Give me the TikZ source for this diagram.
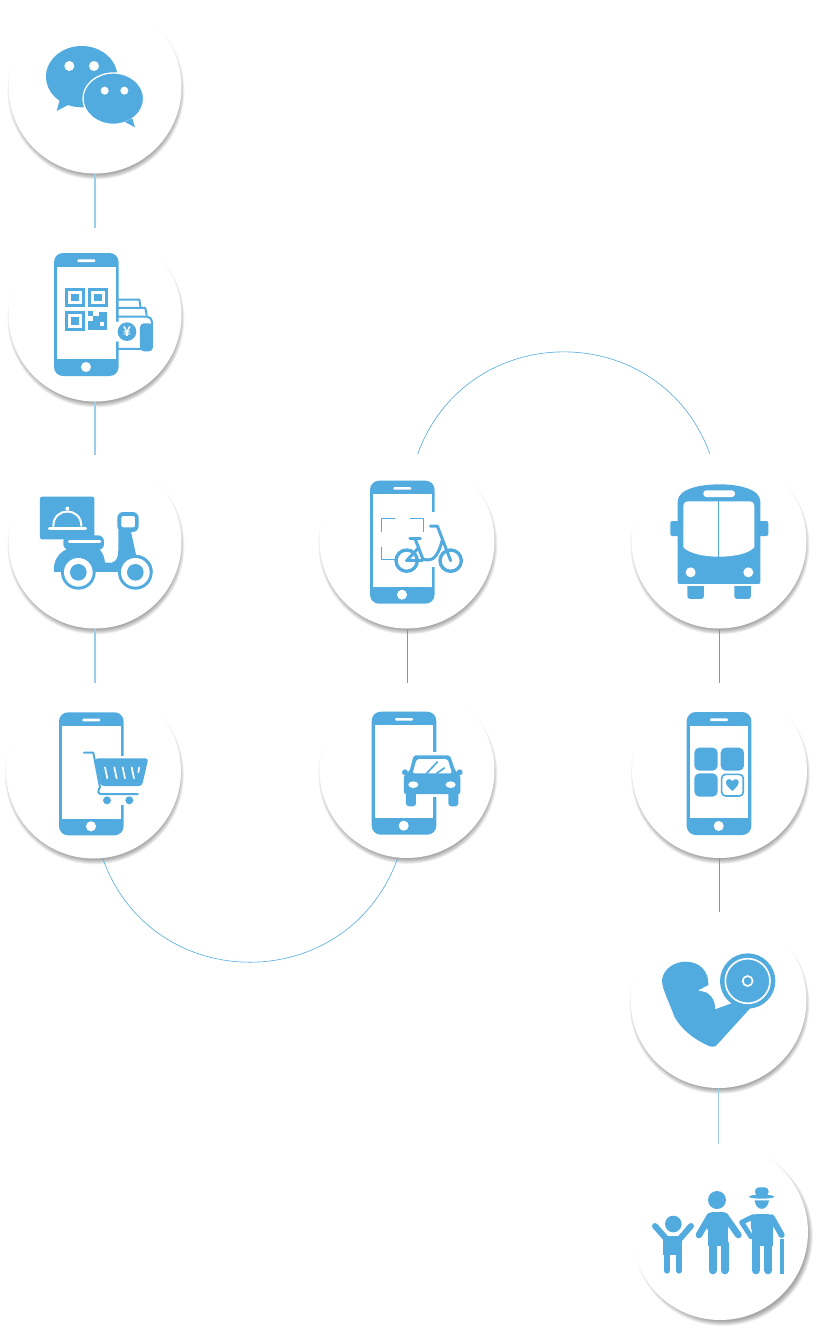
\documentclass[tikz,border=0pt]{standalone}
\usepackage{fontspec}
\setmainfont{Liberation Sans}
\definecolor{iconblue}{HTML}{52ABDF}
\definecolor{stublight}{HTML}{9CCDEA}
\definecolor{stubdark}{HTML}{6F9DB8}
\tikzset{
  stopnode/.style={circle,fill=white,inner sep=0pt},
  stub/.style={draw=stublight,line width=1.5pt},
  stubgrey/.style={draw=stubdark,line width=.7pt},
  bow/.style={draw=iconblue,line width=.6pt},
  zoomview/.style 2 args={shift={(#1,#2)},scale=.3333},
  iconfill/.style={fill=iconblue},
  gap/.style={fill=white},
  iconline/.style={draw=iconblue,line width=#1*.3333pt,line cap=round,line join=round},
  gapline/.style={draw=white,line width=#1*.3333pt,line cap=round,line join=round},
  phoneicon/.pic={
    \fill[iconfill,rounded corners=9pt] (0,0) rectangle (64.6,123);
    \fill[gap] (3.3,13.7) rectangle (61.5,106.3);
    \fill[gap,rounded corners=1pt] (23.3,6.4) rectangle (41.3,9);
    \fill[gap] (32,114) circle (5);
  }
}
\newcommand{\stopcircle}[5][1]{%
  \foreach \d in {0,...,7}{\fill[black,opacity=.05] (#3+#1,#4+4) circle [radius=#5-3+\d*.7];}
  \node[stopnode,minimum size=2*#5] (#2) at (#3,#4) {};
}
\begin{document}
\begin{tikzpicture}[x=1pt,y=-1pt]
  \useasboundingbox (0,0) rectangle (818,1331);

  \stopcircle{chat}{95}{87}{86.5}
  \stopcircle{qrpay}{95}{315}{86.5}
  \stopcircle{scooter}{95}{542}{86.5}
  \stopcircle{shop}{93.5}{771}{87.5}
  \stopcircle{bikescan}{407}{541}{87.5}
  \stopcircle{carhail}{407}{770.5}{87.5}
  \stopcircle{bus}{719}{541}{87.5}
  \stopcircle{apps}{719.5}{770.5}{87.5}
  \stopcircle{muscle}{718.5}{1000}{88}
  \stopcircle[3]{family}{720}{1232}{88}

  \draw[stub] (chat.south) -- (qrpay.north);
  \draw[stub] (qrpay.south) -- (scooter.north);
  \draw[stub] (scooter.south) -- (scooter.south |- shop.north);
  \draw[stubgrey] (bikescan.south) -- (carhail.north);
  \draw[stubgrey] (bus.south) -- (bus.south |- apps.north);
  \draw[stubgrey] (apps.south) -- (apps.south |- muscle.north);
  \draw[stub] (muscle.south) -- (muscle.south |- family.north);
  \draw[bow] (shop.-84) .. controls +(49.6,139) and +(-49.6,139) .. (carhail.-96);
  \draw[bow] (bikescan.83) .. controls +(49.8,-136) and +(-49.8,-136) .. (bus.96);

  \begin{scope}[zoomview={0}{0}]
    \fill[iconfill] (245,230) ellipse (107 and 92);
    \fill[iconfill] (180,298) -- (170,333) -- (208,313) -- cycle;
    \fill[gap] (208,198) circle (15);
    \fill[gap] (282,198) circle (15);
    \fill[iconfill,draw=white,line width=1.3pt] (340,296) ellipse (91 and 77);
    \fill[iconfill] (375,366) -- (405,382) -- (397,355) -- cycle;
    \fill[gap] (314,272) circle (12);
    \fill[gap] (373,272) circle (12);
  \end{scope}

  \pic at (54,253) {phoneicon};
  \begin{scope}[zoomview={0}{225}]
    \foreach \qx/\qy in {195/188,265/188,195/258}{
      \fill[iconfill] (\qx,\qy) rectangle (\qx+59,\qy+59);
      \fill[gap] (\qx+9,\qy+9) rectangle (\qx+50,\qy+50);
      \fill[iconfill] (\qx+18,\qy+18) rectangle (\qx+41,\qy+41);
    }
    \fill[iconfill] (265,258) rectangle (280,272);
    \fill[iconfill] (280,272) rectangle (296,290);
    \fill[iconfill] (296,260) rectangle (322,316);
    \fill[iconfill] (265,288) rectangle (296,316);
    \fill[gap] (300,292) rectangle (312,303);
    \draw[iconline=6] (355,224) -- (418,224) -- (422,248);
    \draw[iconline=6] (355,249) -- (436,249) -- (440,270);
    \draw[iconline=6,rounded corners=5pt] (352,275) -- (456,275) -- (456,372) -- (352,372);
    \fill[iconfill,rounded corners=4pt] (420,295) rectangle (459,379);
    \fill[gap] (352,320) circle (30);
    \fill[iconfill] (381,320) circle (28);
    \node[text=white,font=\bfseries\fontsize{14}{14}\selectfont,inner sep=0pt] (yen) at (381,319) {¥};
  \end{scope}

  \begin{scope}[zoomview={0}{450}]
    \fill[iconfill,rounded corners=2pt] (120,140) rectangle (283,268);
    \draw[gapline=6] (160,228) .. controls (160,170) and (244,170) .. (244,228);
    \draw[gapline=9] (148,234) -- (257,234);
    \fill[gap] (202,176) circle (6);
    \fill[iconfill,rounded corners=6pt] (190,256) rectangle (312,300);
    \draw[gapline=8] (208,274) -- (300,274);
    \fill[iconfill] (162,366) -- (162,350) .. controls (165,325) and (180,305) .. (205,296)
      -- (295,296) .. controls (308,305) and (313,320) .. (315,338) -- (335,338)
      .. controls (350,335) and (355,320) .. (355,300) -- (355,240) -- (392,240)
      -- (408,314) .. controls (440,318) and (458,340) .. (458,366) -- cycle;
    \fill[iconfill,rounded corners=6pt] (352,186) rectangle (416,246);
    \fill[gap,rounded corners=2pt] (364,198) rectangle (405,232);
    \foreach \wx in {235,406}{
      \fill[iconfill] (\wx,367) circle (52);
      \fill[gap] (\wx,367) circle (43);
      \fill[iconfill] (\wx,367) circle (25);
    }
  \end{scope}

  \pic at (59,712.3) {phoneicon};
  \begin{scope}[zoomview={0}{690}]
    \fill[gap] (355,197) rectangle (375,345);
    \draw[iconline=6] (252,188) -- (280,188) -- (300,292) .. controls (294,300) and (292,312) .. (303,312) -- (414,312);
    \fill[iconfill,rounded corners=3pt] (285,205) -- (445,205) -- (426,288) -- (302,288) -- cycle;
    \foreach \sx in {315,343,368,395}{
      \draw[gapline=5] (\sx,232) -- (\sx+7,265);
    }
    \draw[gapline=5] (418,232) -- (415,247);
    \fill[iconfill] (321,331) circle (12);
    \fill[iconfill] (388,331) circle (12);
  \end{scope}

  \pic at (370,480.7) {phoneicon};
  \begin{scope}[zoomview={315}{460}]
    \fill[gap] (345,155) rectangle (365,320);
    \draw[iconline=4,line cap=butt] (200,215) -- (200,175) -- (240,175);
    \draw[iconline=4,line cap=butt] (285,175) -- (325,175) -- (325,215);
    \draw[iconline=4,line cap=butt] (200,260) -- (200,298) -- (240,298);
    \draw[iconline=10] (275,302) circle (32);
    \draw[iconline=10] (407,302) circle (32);
    \draw[iconline=9] (346,198) -- (367,198) -- (407,302);
    \draw[iconline=9] (285,236) -- (316,236);
    \draw[iconline=9] (300,236) -- (324,298) -- (340,300) .. controls (358,300) and (372,280) .. (382,240);
    \draw[iconline=9] (275,302) -- (322,302);
    \draw[iconline=9] (275,302) -- (312,262);
  \end{scope}

  \pic at (371.7,711.7) {phoneicon};
  \begin{scope}[zoomview={315}{690}]
    \fill[gap] (350,187) rectangle (370,322);
    \fill[iconfill,rounded corners=2pt] (284,243) -- (296,196) -- (405,196) -- (421,243) -- (436,255) -- (436,312) -- (267,312) -- (267,255) -- cycle;
    \fill[iconfill] (270,247) circle (9);
    \fill[iconfill] (434,247) circle (9);
    \fill[iconfill,rounded corners=3pt] (273,300) rectangle (303,349);
    \fill[iconfill,rounded corners=3pt] (400,300) rectangle (430,349);
    \fill[gap,rounded corners=2pt] (305,207) -- (398,207) -- (411,250) -- (293,250) -- cycle;
    \draw[iconline=5] (335,250) -- (367,216);
    \draw[iconline=5] (365,250) -- (388,234);
    \fill[gap] (295,284) ellipse (15 and 10);
    \fill[gap] (407,284) ellipse (15 and 10);
  \end{scope}

  \begin{scope}[zoomview={625}{460}]
    \fill[iconfill,rounded corners=2pt] (136,183) rectangle (175,228);
    \fill[iconfill,rounded corners=2pt] (390,183) rectangle (430,228);
    \fill[iconfill,rounded corners=3pt] (187,360) rectangle (237,417);
    \fill[iconfill,rounded corners=3pt] (328,360) rectangle (378,417);
    \fill[gap] (180,372) rectangle (390,378);
    \fill[iconfill] (158,125) .. controls (158,85) and (230,73) .. (283,73) .. controls (336,73) and (406,85) .. (406,125)
      -- (406,365) .. controls (406,370) and (404,372) .. (400,372) -- (164,372) .. controls (160,372) and (158,370) .. (158,365) -- cycle;
    \fill[gap,rounded corners=3pt] (235,91) rectangle (330,111);
    \fill[gap] (175,140) .. controls (175,128) and (182,124) .. (192,124) -- (372,124) .. controls (382,124) and (388,128) .. (388,140)
      -- (388,262) .. controls (370,282) and (325,290) .. (282,290) .. controls (240,290) and (195,282) .. (175,262) -- cycle;
    \draw[iconline=3,line cap=butt] (280,122) -- (280,291);
    \fill[gap] (197,337) circle (15);
    \fill[gap] (370,337) circle (15);
  \end{scope}

  \pic at (686.7,712) {phoneicon};
  \begin{scope}[zoomview={625}{690}]
    \fill[iconfill,rounded corners=5pt] (208,173) rectangle (278,242);
    \fill[iconfill,rounded corners=5pt] (287,173) rectangle (357,242);
    \fill[iconfill,rounded corners=5pt] (208,250) rectangle (278,320);
    \draw[iconline=5,rounded corners=4pt] (290,253) rectangle (355,318);
    \fill[iconfill] (322,303) .. controls (310,292) and (303,285) .. (303,277) .. controls (303,265) and (318,265) .. (322,274)
      .. controls (326,265) and (341,265) .. (341,277) .. controls (341,285) and (334,292) .. (322,303) -- cycle;
  \end{scope}

  \begin{scope}[zoomview={625}{920}]
    \fill[iconfill] (111,180) .. controls (115,145) and (150,125) .. (182,125) .. controls (225,125) and (252,155) .. (250,195)
      -- (222,210) .. controls (255,215) and (272,240) .. (270,268) -- (320,250) -- (378,262) -- (278,372)
      .. controls (270,382) and (262,382) .. (252,378) .. controls (210,360) and (170,330) .. (148,290)
      .. controls (135,250) and (111,210) .. (111,180) -- cycle;
    \draw[gapline=3] (222,210) -- (248,216);
    \fill[iconfill] (368,183) circle (83);
    \draw[gapline=5] (368,183) circle (67);
    \draw[gapline=5] (368,183) circle (15);
  \end{scope}

  \begin{scope}[zoomview={625}{1140}]
    \draw[iconline=18] (90,258) -- (125,298);
    \draw[iconline=18] (198,258) -- (163,298);
    \fill[iconfill] (115,288) rectangle (172,345);
    \fill[gap] (145,252) circle (35);
    \fill[iconfill] (145,252) circle (25);
    \draw[iconline=18] (126,340) -- (126,392);
    \draw[iconline=18] (162,340) -- (162,392);
    \fill[iconfill] (276,180) circle (27);
    \fill[iconfill,rounded corners=6pt] (246,216) rectangle (310,280);
    \fill[iconfill] (248,260) rectangle (308,318);
    \draw[iconline=20] (255,228) -- (222,285);
    \draw[iconline=20] (300,228) -- (340,285);
    \draw[iconline=24] (263,310) -- (263,391);
    \draw[iconline=24] (299,310) -- (299,391);
    \fill[iconfill] (410,170) ellipse (38 and 6);
    \fill[iconfill,rounded corners=4pt] (390,142) rectangle (431,168);
    \fill[iconfill] (389,181) .. controls (392,215) and (428,215) .. (432,181) -- cycle;
    \fill[iconfill,rounded corners=6pt] (378,222) rectangle (445,280);
    \fill[iconfill] (380,260) rectangle (443,318);
    \draw[iconline=15] (385,230) -- (350,247) -- (378,290);
    \draw[iconline=18] (440,232) -- (470,285);
    \draw[iconline=24] (392,310) -- (392,391);
    \draw[iconline=24] (430,310) -- (430,391);
    \fill[iconfill] (464,297) rectangle (477,402);
  \end{scope}
\end{tikzpicture}
\end{document}
